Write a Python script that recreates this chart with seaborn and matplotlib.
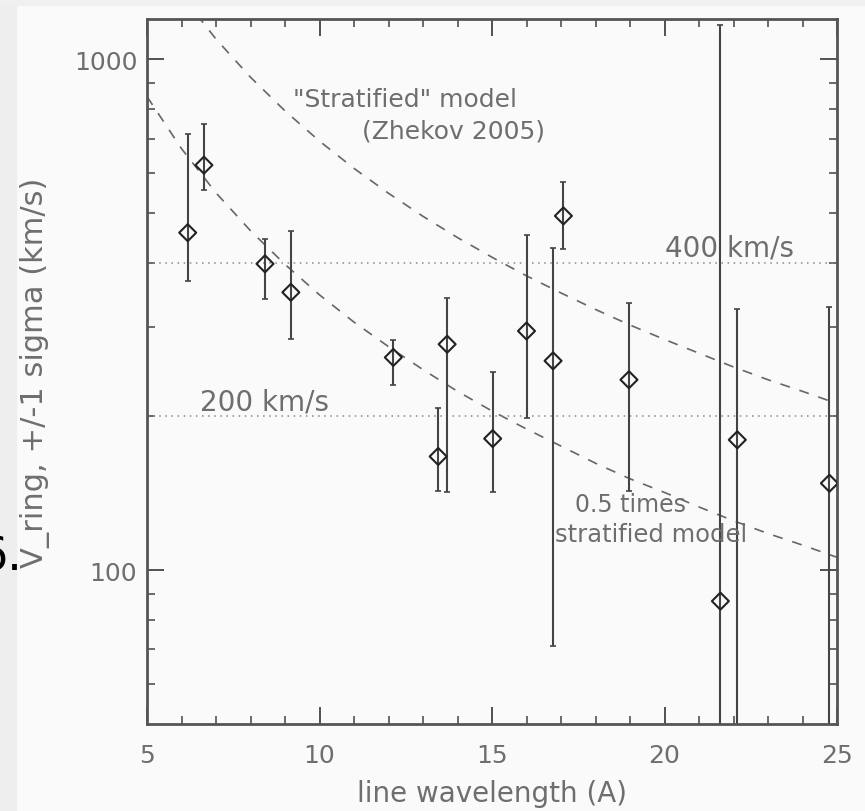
import matplotlib
matplotlib.use("Agg")
import matplotlib.pyplot as plt
import seaborn as sns
import pandas as pd

# measured ring velocities
wavelength = [6.18, 6.65, 8.42, 9.17, 12.14, 13.44, 13.70, 15.02, 16.0, 16.77, 17.07, 18.97, 21.62, 22.11, 24.78]
v_ring = [458, 621, 398, 350, 261, 167, 277, 181, 294, 257, 494, 236, 87, 180, 148]
v_hi = [713, 748, 446, 461, 282, 208, 341, 244, 454, 427, 575, 333, 1166, 324, 327]
v_lo = [368, 555, 340, 284, 230, 143, 142, 142, 199, 71, 425, 143, 30, 30, 30]

model_wl = [5, 6, 7, 8, 9, 10, 11, 12, 13, 14, 15, 16, 17, 18, 19, 20, 21, 22, 23, 24, 25]
strat = [1692, 1337, 1096, 923, 793, 692, 612, 547, 493, 448, 410, 377, 349, 324, 302, 283, 266, 250, 236, 224, 212]
half = [846, 669, 548, 462, 397, 346, 306, 274, 247, 224, 205, 189, 175, 162, 151, 142, 133, 125, 118, 112, 106]

ref_levels = [400, 200]

df = pd.DataFrame({"wl": wavelength, "v": v_ring, "hi": v_hi, "lo": v_lo})
df["err_up"] = df["hi"] - df["v"]
df["err_dn"] = df["v"] - df["lo"]

sns.set_style("ticks")
plt.rcParams["font.family"] = ["DejaVu Sans"]
txt = "#6e6e6e"

fig = plt.figure(figsize=(8.65, 8.12), dpi=100, facecolor="#fafafa")
ax = fig.add_axes([147 / 865, 1 - 725 / 812, 690 / 865, 705 / 812])
ax.set_facecolor("#fafafa")

# screenshot borders
fig.patches.append(plt.Rectangle((0, 0), 16 / 865, 1, transform=fig.transFigure,
                                 color="#eeeeee", zorder=0))
fig.patches.append(plt.Rectangle((0, 1 - 6 / 812), 1, 6 / 812, transform=fig.transFigure,
                                 color="#f0f0f0", zorder=0))
fig.text(23 / 865, 1 - 571 / 812, "6.", fontsize=33, color="black", ha="right",
         va="baseline")

sns.lineplot(x=model_wl, y=strat, ax=ax, color="#666666", lw=1.2, dashes=(6, 6))
sns.lineplot(x=model_wl, y=half, ax=ax, color="#666666", lw=1.2, dashes=(6, 6))
for lv in ref_levels:
    ax.axhline(lv, color="#888888", lw=1.1, ls=(0, (1, 3)))

ax.errorbar(df["wl"], df["v"], yerr=[df["err_dn"], df["err_up"]], fmt="none",
            ecolor="#444444", elinewidth=1.5, capsize=2.5, capthick=1.2)
sns.scatterplot(data=df, x="wl", y="v", ax=ax, marker="D", s=75, facecolor="none",
                edgecolor="#222222", linewidth=1.5, zorder=5)

ax.set_yscale("log")
ax.set_xlim(5, 25)
ax.set_ylim(50, 1200)
ax.set_xticks([5, 10, 15, 20, 25])
ax.set_xticks(range(5, 26), minor=True)
ax.set_xticklabels(["5", "10", "15", "20", "25"])
ax.set_yticks([100, 1000])
ax.set_yticklabels(["100", "1000"])
ax.set_yticks([60, 70, 80, 90, 200, 300, 400, 500, 600, 700, 800, 900], minor=True)
ax.yaxis.set_minor_formatter(matplotlib.ticker.NullFormatter())

ax.tick_params(which="both", direction="in", top=True, right=True, color="#444444",
               labelcolor=txt, labelsize=18)
ax.tick_params(which="major", length=12, width=1.3)
ax.tick_params(which="minor", length=6, width=1.1)
ax.tick_params(axis="x", pad=14)
ax.tick_params(axis="y", pad=7)
for sp in ax.spines.values():
    sp.set_color("#555555")
    sp.set_linewidth(2)

ax.set_xlabel("line wavelength (A)", fontsize=20, color=txt)
ax.set_ylabel("V_ring, +/-1 sigma (km/s)", fontsize=22, color=txt)
ax.xaxis.set_label_coords(0.5, -(794 - 725) / 705)
ax.yaxis.set_label_coords(-(147 - 35) / 690, 0.5)
ax.xaxis.label.set_va("center")
ax.yaxis.label.set_va("center")

ax.text(9.23, 835, '"Stratified" model', fontsize=18, color=txt, va="center")
ax.text(11.22, 727, "(Zhekov 2005)", fontsize=18, color=txt, va="center")
ax.text(20.01, 429, "400 km/s", fontsize=20, color=txt, va="center")
ax.text(6.54, 214, "200 km/s", fontsize=20, color=txt, va="center")
ax.text(17.41, 134.5, "0.5 times", fontsize=17, color=txt, va="center")
ax.text(16.83, 117.7, "stratified model", fontsize=17.5, color=txt, va="center")

fig.savefig("out.png", dpi=100, facecolor=fig.get_facecolor())
